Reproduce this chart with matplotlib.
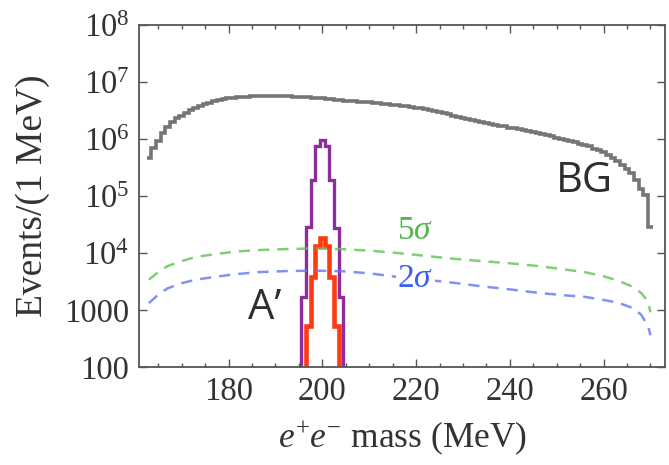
import numpy as np
import matplotlib
matplotlib.use("Agg")
import matplotlib.pyplot as plt
from matplotlib.ticker import FixedLocator, MultipleLocator, LogLocator, NullFormatter

plt.rcParams['font.family'] = ['Liberation Serif', 'DejaVu Serif']
plt.rcParams['mathtext.fontset'] = 'custom'
plt.rcParams['mathtext.rm'] = 'Liberation Serif'
plt.rcParams['mathtext.it'] = 'Liberation Serif:italic'

# ---------------- data ----------------
bg_mass = list(range(163, 271))
bg_events = [
    4.6e5, 6.9e5, 9.3e5, 1.26e6, 1.62e6, 1.95e6, 2.29e6, 2.57e6, 2.88e6, 3.24e6,   # 163-172
    3.55e6, 3.80e6, 4.07e6, 4.32e6, 4.57e6, 4.79e6, 5.01e6, 5.13e6, 5.25e6, 5.37e6,  # 173-182
    5.50e6, 5.56e6, 5.62e6, 5.69e6, 5.71e6, 5.75e6, 5.75e6, 5.75e6, 5.73e6, 5.69e6,  # 183-192
    5.62e6, 5.56e6, 5.50e6, 5.43e6, 5.37e6, 5.25e6, 5.19e6, 5.13e6, 5.01e6, 4.95e6,  # 193-202
    4.90e6, 4.79e6, 4.73e6, 4.68e6, 4.57e6, 4.52e6, 4.47e6, 4.37e6, 4.32e6, 4.27e6,  # 203-212
    4.17e6, 4.07e6, 3.98e6, 3.89e6, 3.80e6, 3.72e6, 3.63e6, 3.55e6, 3.43e6, 3.31e6,  # 213-222
    3.16e6, 3.05e6, 2.92e6, 2.82e6, 2.69e6, 2.57e6, 2.45e6, 2.37e6, 2.26e6, 2.19e6,  # 223-232
    2.09e6, 2.00e6, 1.93e6, 1.86e6, 1.78e6, 1.72e6, 1.66e6, 1.58e6, 1.53e6, 1.48e6,  # 233-242
    1.41e6, 1.36e6, 1.32e6, 1.26e6, 1.20e6, 1.16e6, 1.11e6, 1.06e6, 1.01e6, 9.7e5,   # 243-252
    9.2e5, 8.7e5, 8.3e5, 7.9e5, 7.4e5, 6.8e5, 6.3e5, 5.8e5, 5.2e5, 4.6e5,            # 253-262
    4.1e5, 3.5e5, 3.0e5, 2.5e5, 1.9e5, 1.35e5, 1.02e5, 2.8e4,                        # 263-270
]

sig_mass = [196, 197, 198, 199, 200, 201, 202, 203, 204]
sig_purple = [1.7e3, 2.9e4, 1.9e5, 7.4e5, 9.6e5, 7.4e5, 1.9e5, 2.7e4, 1.7e3]
sig_red_mass = [197, 198, 199, 200, 201, 202, 203]
sig_red = [520, 3.8e3, 1.3e4, 1.8e4, 1.3e4, 3.8e3, 520]

sens_mass = [163, 165, 167, 170, 173, 177, 181, 186, 192, 198, 204, 210, 216, 222,
             228, 234, 240, 246, 252, 256, 260, 263, 266, 268, 269.5, 270]
sens_5sigma = [3.4e3, 4.6e3, 5.9e3, 7.2e3, 8.5e3, 9.5e3, 1.05e4, 1.12e4, 1.17e4, 1.2e4,
               1.17e4, 1.10e4, 1.0e4, 8.9e3, 7.9e3, 7.2e3, 6.6e3, 5.9e3, 5.1e3, 4.6e3,
               3.9e3, 3.3e3, 2.6e3, 2.0e3, 1.4e3, 910]
sens_2sigma = [1.32e3, 1.86e3, 2.4e3, 2.95e3, 3.4e3, 3.8e3, 4.2e3, 4.6e3, 4.8e3, 4.9e3,
               4.8e3, 4.4e3, 3.8e3, 3.4e3, 3.0e3, 2.6e3, 2.3e3, 2.0e3, 1.8e3, 1.7e3,
               1.5e3, 1.35e3, 1.1e3, 830, 520, 360]

x_major = [180, 200, 220, 240, 260]
y_major = [1e2, 1e3, 1e4, 1e5, 1e6, 1e7, 1e8]
y_labels = ['100', '1000', r'$10^{4}$', r'$10^{5}$', r'$10^{6}$', r'$10^{7}$', r'$10^{8}$']


def edges_from_centers(c):
    c = np.asarray(c, dtype=float)
    return np.append(c - 0.5, c[-1] + 0.5)


# ---------------- figure ----------------
fig = plt.figure(figsize=(6.69, 4.65), dpi=100)
ax = fig.add_axes([0.2078, 0.2108, 0.7862, 0.7355])
ax.set_yscale('log')

ax.plot(sens_mass, sens_5sigma, color='#62c255', lw=1.8, dashes=(4.5, 3.2), alpha=0.8)
ax.plot(sens_mass, sens_2sigma, color='#6377f2', lw=1.8, dashes=(4.5, 3.2), alpha=0.8)

ax.stairs(bg_events, edges_from_centers(bg_mass), baseline=None,
          color='#757575', lw=2.6)
ax.stairs(sig_purple, edges_from_centers(sig_mass), baseline=1,
          color='#8e2c9e', lw=2.4)
ax.stairs(sig_red, edges_from_centers(sig_red_mass), baseline=1,
          color='#ff3a12', lw=3.3)

ax.text(219.9, 2.5e4, r'$5\sigma$', color='#4fb848', fontsize=24,
        ha='center', va='center')
ax.text(219.9, 3.5e3, r'$2\sigma$', color='#3e5df2', fontsize=24,
        ha='center', va='center',
        bbox=dict(boxstyle='square,pad=0.05', fc='white', ec='none'))
ax.text(187.8, 1.1e3, 'A’', family=['Open Sans', 'DejaVu Sans'], color='#2e2e2e',
        fontsize=30, ha='center', va='center')
ax.text(255.9, 1.8e5, 'BG', family=['Open Sans', 'DejaVu Sans'], color='#2e2e2e',
        fontsize=30, ha='center', va='center')

ax.set_xlim(160.9, 273.1)
ax.set_ylim(100, 1e8)

ax.xaxis.set_major_locator(FixedLocator(x_major))
ax.xaxis.set_minor_locator(MultipleLocator(5))
ax.set_xticklabels([str(v) for v in x_major])
ax.yaxis.set_major_locator(FixedLocator(y_major))
ax.set_yticklabels(y_labels)
ax.yaxis.set_minor_locator(LogLocator(base=10, subs=np.arange(2, 10)))
ax.yaxis.set_minor_formatter(NullFormatter())

ax.tick_params(which='both', direction='in', top=True, right=True,
               colors='#555555', labelcolor='#333333', width=1.0)
ax.tick_params(which='major', length=6, labelsize=23.5, pad=7)
ax.tick_params(which='minor', length=3)
for s in ax.spines.values():
    s.set_color('#555555')
    s.set_linewidth(1.3)

ax.set_xlabel(r'$e^{+}e^{-}$ mass (MeV)', fontsize=25.5, color='#333333', labelpad=8)
ax.set_ylabel('Events/(1 MeV)', fontsize=27, color='#333333', labelpad=10)

fig.savefig('out.png', dpi=100)
